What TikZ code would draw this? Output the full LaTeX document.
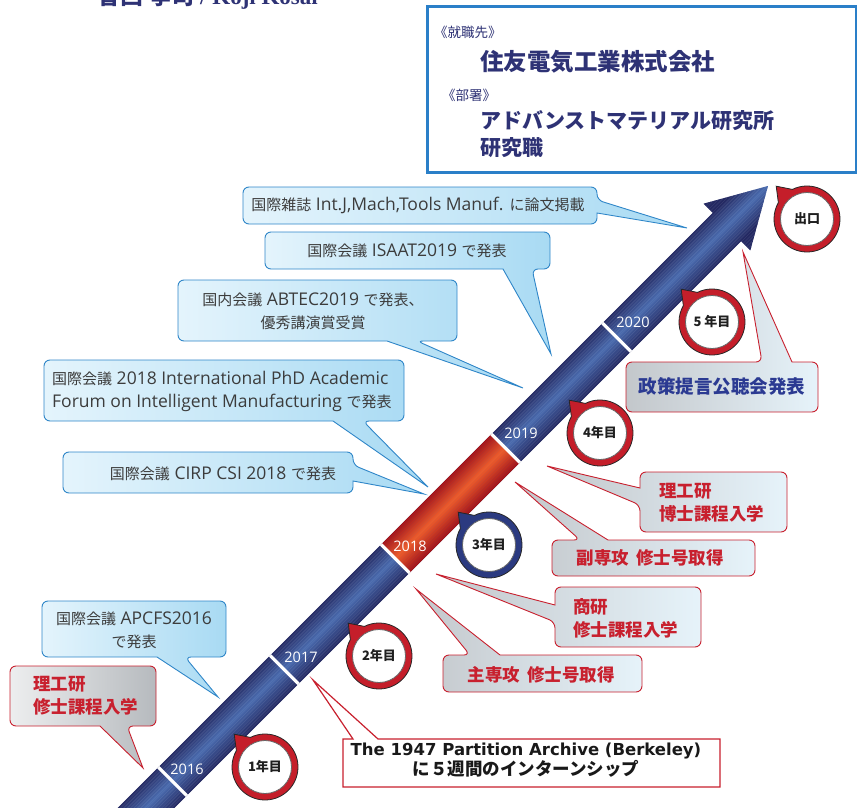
\documentclass[tikz,border=0pt]{standalone}
\usepackage{fontspec}
\setmainfont{Liberation Serif}
\newfontfamily\jp{Noto Sans CJK JP}
\newfontfamily\latn{Open Sans}
\newfontfamily\dvs{DejaVu Sans}
\usetikzlibrary{calc}
\definecolor{navyD}{HTML}{242962}
\definecolor{navyL}{HTML}{4A6BAE}
\definecolor{redD}{HTML}{A5141B}
\definecolor{redL}{HTML}{EE5C2B}
\definecolor{cbBorder}{HTML}{2F86C8}
\definecolor{cbL}{HTML}{E4F4FC}
\definecolor{cbR}{HTML}{A8DAF3}
\definecolor{rBorder}{HTML}{C8202E}
\definecolor{rText}{HTML}{C8202E}
\definecolor{gL}{HTML}{C3C7CB}
\definecolor{gR}{HTML}{E6F3FA}
\definecolor{gLa}{HTML}{EDEEEF}
\definecolor{gRa}{HTML}{B6BABE}
\definecolor{polText}{HTML}{2B3A92}
\definecolor{topBlue}{HTML}{2A7FC8}
\definecolor{topText}{HTML}{2E3275}
\definecolor{txtGray}{HTML}{3C3C3C}
\definecolor{ringRed}{HTML}{C41E2A}
\definecolor{ringBlue}{HTML}{2B3A80}
\newcommand\jb[1]{{\jp\fontsize{15}{23}\selectfont #1}}
\newcommand\yrbubble[4]{%
  \draw[fill=#3, draw=black!85, line width=0.8pt] ($(#2)+(226.8:45)$) -- ($(#2)+(243.8:33)$) arc[start angle=243.8, end angle=569.8, radius=33] -- cycle;
  \draw[fill=white, draw=black!60, line width=0.8pt] (#2) circle (26.5);
  \node[bubtxt] (#1) at (#2) {#4};
}
\tikzset{
  bluecall/.style={draw=cbBorder, line width=0.9pt, left color=cbL, right color=cbR},
  redcall/.style={draw=rBorder, line width=0.9pt, left color=gL, right color=gR},
  redcallrev/.style={draw=rBorder, line width=0.9pt, left color=gLa, right color=gRa},
  btxt/.style={font=\latn\fontsize{17.5}{23}\selectfont, text=txtGray, inner sep=0pt},
  rtxt/.style={font=\jp\bfseries\fontsize{17.5}{23}\selectfont, text=rText, inner sep=0pt, align=left},
  yeartxt/.style={font=\latn\fontsize{14.5}{16}\selectfont, text=white, inner sep=0pt},
  bubtxt/.style={font=\jp\bfseries\fontsize{13}{15}\selectfont, text=black!88, inner sep=0pt},
  toptxt/.style={font=\jp\bfseries, text=topText, inner sep=0pt, anchor=west},
}
\begin{document}
\begin{tikzpicture}[x=1pt,y=-1pt]
\useasboundingbox (0,0) rectangle (857,808);

% title (cut off at top, as in the reference)
\node[anchor=base west, inner sep=0pt, text=topText, font=\bfseries\fontsize{23}{25}\selectfont] (title) at (97,5) {{\jp 香西 孝司} / Koji Kosai};

% career box
\node[draw=topBlue, line width=2.7pt, fill=white, minimum width=429pt, minimum height=166pt, inner sep=0pt, anchor=north west] (career) at (426,5.3) {};
\node[toptxt, font=\jp\fontsize{13.5}{16}\selectfont] (lab1) at (434,32) {《就職先》};
\node[toptxt, font=\jp\bfseries\fontsize{23.5}{26}\selectfont] (company) at (480,62) {住友電気工業株式会社};
\node[toptxt, font=\jp\fontsize{13.5}{16}\selectfont] (lab2) at (442,95) {《部署》};
\node[toptxt, font=\jp\bfseries\fontsize{21}{24}\selectfont] (dept) at (480,121) {アドバンストマテリアル研究所};
\node[toptxt, font=\jp\bfseries\fontsize{21}{24}\selectfont] (job) at (480,148) {研究職};

% arrow
\begin{scope}[shift={(768,186)}, rotate=45]
  \clip (0,0) -- (-58,-33) -- (-58,-20) -- (-1100,-20) -- (-1100,20) -- (-58,20) -- (-58,33) -- cycle;
  \foreach \k in {-33,...,33} {
    \pgfmathtruncatemacro\p{max(0,100-100*abs(\k)/20)}
    \fill[navyL!\p!navyD] (-1100,\k-0.6) rectangle (1,\k+0.6);
  }
  \foreach \k in {-21,...,21} {
    \pgfmathtruncatemacro\p{max(0,100-100*abs(\k)/20)}
    \fill[redL!\p!redD] (-527,\k-0.6) rectangle (-371,\k+0.6);
  }
  \foreach \s in {-842,-684,-527,-371,-214}
    \draw[white, line width=3.2pt] (\s,-24) -- (\s,24);
\end{scope}
\node[yeartxt] (y16) at (187,769) {2016};
\node[yeartxt] (y17) at (301,657) {2017};
\node[yeartxt] (y18) at (410,546) {2018};
\node[yeartxt] (y19) at (521,433) {2019};
\node[yeartxt] (y20) at (633,322) {2020};

% year bubbles
\yrbubble{b1}{265,767}{ringRed}{1年目}
\yrbubble{b2}{379,656}{ringRed}{2年目}
\yrbubble{b3}{489,545}{ringBlue}{3年目}
\yrbubble{b4}{600,433}{ringRed}{4年目}
\yrbubble{b5}{712,322}{ringRed}{5 年目}
\yrbubble{bexit}{807,219}{ringRed}{出口}

% blue callouts
\draw[bluecall, rounded corners=6pt] (243,187) -- (597,187) -- (597,200) [sharp corners] -- (687,228) -- (597,213) [rounded corners=6pt] -- (597,224) -- (243,224) -- cycle;
\node[btxt] (t1) at (418,205) {\jb{国際雑誌} Int.J,Mach,Tools Manuf. \jb{に論文掲載}};

\draw[bluecall, rounded corners=6pt] (265,232) -- (550,232) -- (550,269) -- (532,269) [sharp corners] -- (551,354) -- (503,269) [rounded corners=6pt] -- (265,269) -- cycle;
\node[btxt] (t2) at (407,251) {\jb{国際会議} ISAAT2019 \jb{で発表}};

\draw[bluecall, rounded corners=6pt] (178,280) -- (457,280) -- (457,341) -- (417,341) [sharp corners] -- (523,388) -- (387,341) [rounded corners=6pt] -- (178,341) -- cycle;
\node[btxt, align=center] (t3) at (313,311) {\jb{国内会議} ABTEC2019 \jb{で発表、}\\\jb{優秀講演賞受賞}};

\draw[bluecall, rounded corners=6pt] (44,360) -- (404,360) -- (404,421) -- (363,421) [sharp corners] -- (428,487) -- (333,421) [rounded corners=6pt] -- (44,421) -- cycle;
\node[btxt, align=left, anchor=west] (t4) at (52,391) {\jb{国際会議} 2018 International PhD Academic\\Forum on Intelligent Manufacturing \jb{で発表}};

\draw[bluecall, rounded corners=6pt] (63,452) -- (353,452) -- (353,465) [sharp corners] -- (424,494) -- (353,481) [rounded corners=6pt] -- (353,493) -- (63,493) -- cycle;
\node[btxt] (t5) at (223,474) {\jb{国際会議} CIRP CSI 2018 \jb{で発表}};

\draw[bluecall, rounded corners=6pt] (42,601) -- (226,601) -- (226,657) -- (185,657) [sharp corners] -- (218,697) -- (157,657) [rounded corners=6pt] -- (42,657) -- cycle;
\node[btxt, align=center] (t6) at (134,630) {\jb{国際会議} APCFS2016\\\jb{で発表}};

% red callouts
\draw[redcallrev, rounded corners=6pt] (10,666) -- (156,666) -- (156,726) -- (127,726) [sharp corners] -- (143,768) -- (100,726) [rounded corners=6pt] -- (10,726) -- cycle;
\node[rtxt, anchor=west] (r7) at (33,696) {理工研\\修士課程入学};

\draw[redcall, rounded corners=6pt] (626,362) -- (762,362) [sharp corners] -- (743,252) -- (792,362) [rounded corners=6pt] -- (818,362) -- (818,412) -- (626,412) -- cycle;
\node[rtxt, text=polText, font=\jp\bfseries\fontsize{18.5}{23}\selectfont] (r8) at (722,386) {政策提言公聴会発表};

\draw[redcall, rounded corners=6pt] (640,472) -- (787,472) -- (787,532) -- (640,532) -- (640,505) [sharp corners] -- (547,466) -- (640,488) [rounded corners=6pt] -- cycle;
\node[rtxt, anchor=west] (r9) at (659,503) {理工研\\博士課程入学};

\draw[redcall, rounded corners=6pt] (552,540) -- (580,540) [sharp corners] -- (515,482) -- (608,540) [rounded corners=6pt] -- (755,540) -- (755,576) -- (552,576) -- cycle;
\node[rtxt] (r10) at (650,558) {副専攻\hspace{7pt}修士号取得};

\draw[redcall, rounded corners=6pt] (555,587) -- (701,587) -- (701,647) -- (555,647) -- (555,622) [sharp corners] -- (436,574) -- (555,605) [rounded corners=6pt] -- cycle;
\node[rtxt, anchor=west] (r11) at (573,618) {商研\\修士課程入学};

\draw[redcall, rounded corners=6pt] (443,655) -- (470,655) [sharp corners] -- (416,589) -- (500,655) [rounded corners=6pt] -- (642,655) -- (642,692) -- (443,692) -- cycle;
\node[rtxt] (r12) at (541,675) {主専攻\hspace{7pt}修士号取得};

% internship
\draw[draw=rBorder, line width=1.2pt, fill=white] (343,739) -- (353,739) -- (313,680) -- (378,739) -- (720,739) -- (720,787) -- (343,787) -- cycle;
\node[inner sep=0pt, align=center, text=black!90] (intern) at (526,760) {{\dvs\bfseries\fontsize{16.5}{19.5}\selectfont The 1947 Partition Archive (Berkeley)}\\{\jp\bfseries\fontsize{17.5}{19.5}\selectfont に５週間のインターンシップ}};
\end{tikzpicture}
\end{document}
